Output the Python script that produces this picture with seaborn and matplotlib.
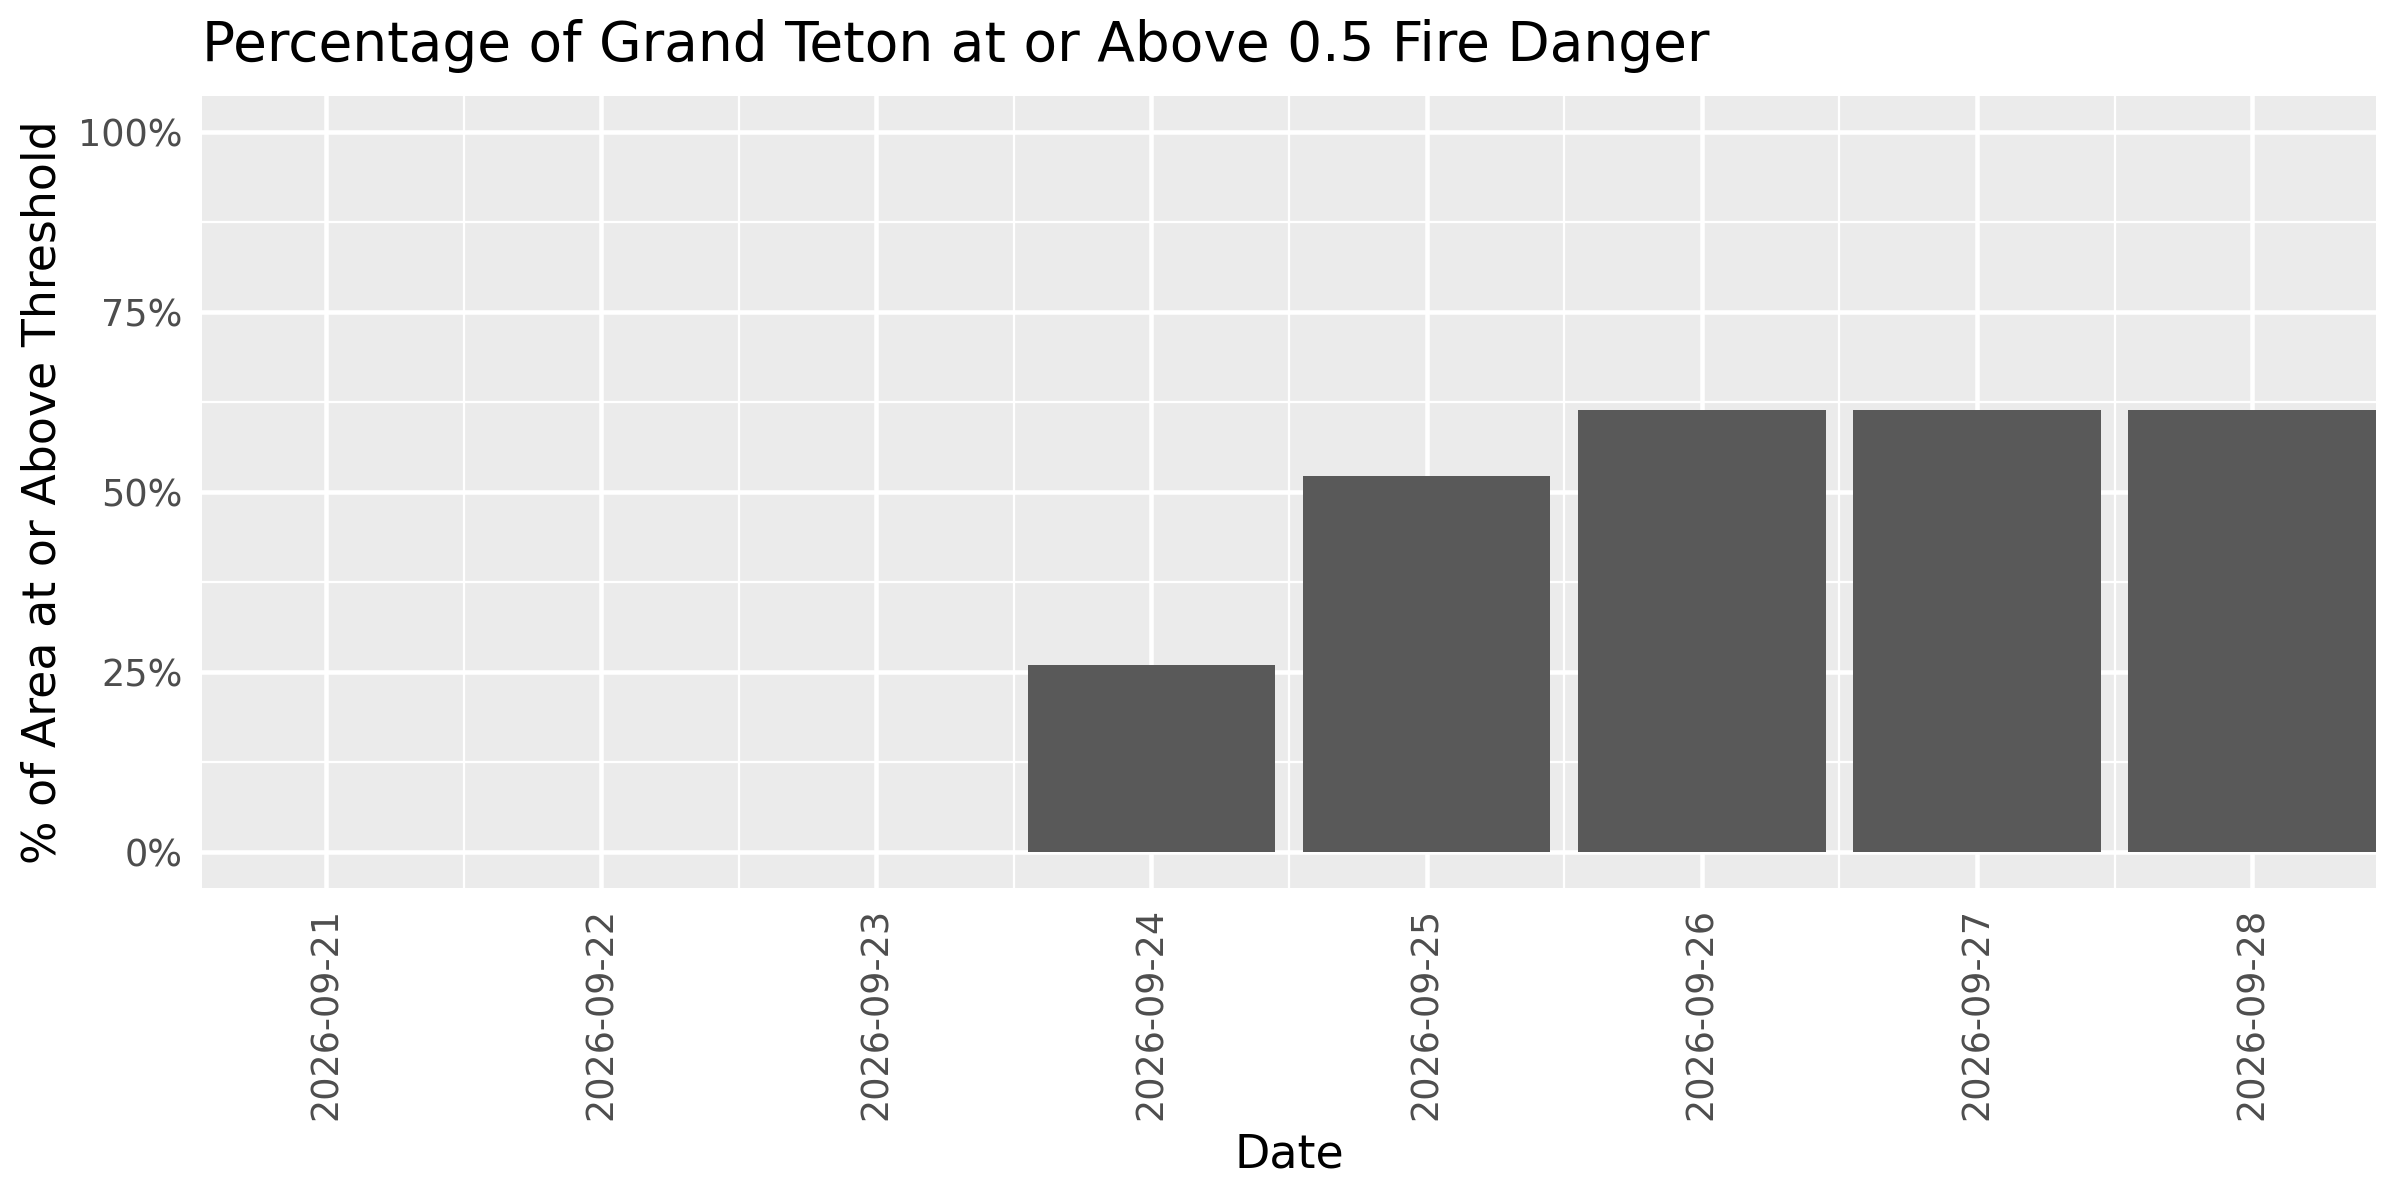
import numpy as np
import pandas as pd
import seaborn as sns
import matplotlib.pyplot as plt
from matplotlib.ticker import FixedLocator, FuncFormatter

# datos
dates = ['2026-09-21', '2026-09-22', '2026-09-23', '2026-09-24',
         '2026-09-25', '2026-09-26', '2026-09-27', '2026-09-28']
pct_above = [0.0, 0.0, 0.0, 26.0, 52.3, 61.4, 61.4, 61.4]
y_ticks = [0, 25, 50, 75, 100]

df = pd.DataFrame({'date': dates, 'pct': pct_above})

sns.set_style('darkgrid', {'axes.facecolor': '#EBEBEB', 'grid.color': 'white',
                           'text.color': 'black', 'axes.labelcolor': 'black'})
plt.rcParams['font.family'] = ['DejaVu Sans']

fig = plt.figure(figsize=(8, 4), dpi=300)
ax = fig.add_axes([0.0842, 0.260, 0.9058, 0.6596])

sns.barplot(data=df, x='date', y='pct', color='#595959', saturation=1,
            width=0.9, linewidth=0, edgecolor='none', ax=ax, zorder=3)

ax.set_xlim(-0.45, len(dates) - 1 + 0.45)
ax.set_ylim(-5, 105)
ax.set_yticks(y_ticks)
ax.yaxis.set_major_formatter(FuncFormatter(lambda v, p: f'{v:.0f}%'))
ax.yaxis.set_minor_locator(FixedLocator([12.5, 37.5, 62.5, 87.5]))
ax.xaxis.set_minor_locator(FixedLocator(np.arange(0.5, len(dates) - 1, 1)))

ax.grid(which='major', color='white', linewidth=1.1, zorder=0)
ax.grid(which='minor', color='white', linewidth=0.55, zorder=0)
ax.set_axisbelow(True)
for s in ax.spines.values():
    s.set_visible(False)

ax.tick_params(axis='both', which='major', length=2.75, width=1.0,
               color='#333333', labelcolor='#4D4D4D', labelsize=8.8, pad=2)
ax.tick_params(axis='both', which='minor', length=0)
plt.setp(ax.get_xticklabels(), rotation=90)

ax.set_xlabel('Date', fontsize=11, color='black', labelpad=3)
ax.set_ylabel('% of Area at or Above Threshold', fontsize=11, color='black', labelpad=3)
fig.text(0.0842, 0.962, 'Percentage of Grand Teton at or Above 0.5 Fire Danger',
         fontsize=13.2, ha='left', va='center', color='black')

fig.savefig('out.png', dpi=300)
